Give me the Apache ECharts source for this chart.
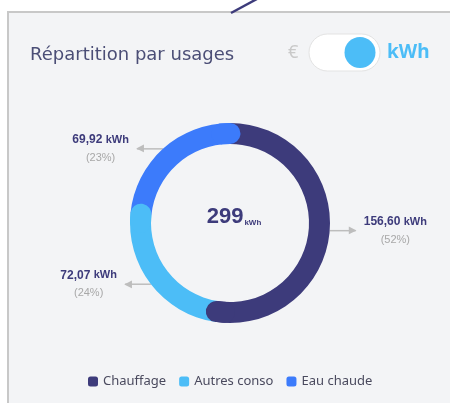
<!DOCTYPE html>
<html>
<head>
<meta charset="utf-8">
<script src="https://cdn.jsdelivr.net/npm/echarts@6/dist/echarts.min.js"></script>
<style>
  html, body { margin: 0; padding: 0; background: #ffffff; }
  #chart { width: 450px; height: 403px; }
</style>
</head>
<body>
<div id="chart"></div>
<script>
// usages (kWh)
const usages = ['Chauffage', 'Autres conso', 'Eau chaude'];
const kwh = [156.60, 72.07, 69.92];
const colors = ['#3d3b7b', '#4cbdf7', '#3c7bfb'];
const unit = 'kWh';

const total = kwh.reduce((a, b) => a + b, 0);
const fmt = (v) => v.toFixed(2).replace('.', ',');

const chart = echarts.init(document.getElementById('chart'));

const center = [230, 223];
const radius = [79, 100];

// mid angle of each slice, clockwise from top (deg)
const midAngles = [];
let acc = 0;
kwh.forEach(v => {
  midAngles.push((acc + v / 2) / total * 360);
  acc += v;
});

// rounded "end caps" so each slice overlaps the next one
const back = 12;   // how far the cap goes back into its own slice
const ext = 10.5 / ((radius[0] + radius[1]) / 2) * 180 / Math.PI;
const capList = [];
acc = 0;
kwh.forEach((v, i) => {
  acc += v;
  let end = acc / total * 360;
  if (i === kwh.length - 1) end = 0;   // last slice wraps round to the top
  capList.push({ from: end - back, to: end + ext, color: colors[i] });
});
capList.sort((a, b) => a.from - b.from);
const capData = [];
let pos = capList[0].from;
capList.forEach(c => {
  if (c.from > pos) {
    capData.push({ value: c.from - pos, itemStyle: { color: 'rgba(0,0,0,0)' } });
  }
  capData.push({ value: c.to - c.from, itemStyle: { color: c.color } });
  pos = c.to;
});
capData.push({ value: capList[0].from + 360 - pos, itemStyle: { color: 'rgba(0,0,0,0)' } });

const lineLen = 26;

chart.setOption({
  animation: false,
  backgroundColor: '#ffffff',
  color: colors,
  title: [
    {
      text: 'Répartition par usages',
      left: 25,
      top: 41,
      textStyle: { fontFamily: 'DejaVu Sans', fontSize: 18, fontWeight: 'normal', color: '#4b4e76' }
    },
    {
      text: '{a|' + Math.round(total) + '}{b|' + unit + '}',
      left: 229,
      top: 201,
      textAlign: 'center',
      textStyle: {
        rich: {
          a: { fontFamily: 'Liberation Sans', fontSize: 22, fontWeight: 'bold', color: '#3d3b7b', verticalAlign: 'bottom' },
          b: { fontFamily: 'Liberation Sans', fontSize: 8, color: '#3d3b7b', verticalAlign: 'bottom', padding: [0, 0, 1, 1] }
        }
      }
    }
  ],
  legend: {
    data: usages,
    left: 83,
    top: 370,
    icon: 'roundRect',
    itemWidth: 10,
    itemHeight: 10,
    itemGap: 13,
    selectedMode: false,
    textStyle: { fontFamily: 'Noto Sans', fontSize: 13, color: '#4a4a5e' }
  },
  graphic: [
    {
      type: 'rect', z: -10, silent: true,
      shape: { x: 8, y: 12, width: 470, height: 420 },
      style: { fill: '#f3f4f6', stroke: '#c8c8c8', lineWidth: 2 }
    },
    {
      type: 'line', z: -5, silent: true,
      shape: { x1: 231, y1: 13, x2: 257, y2: -1 },
      style: { stroke: '#3d3b7b', lineWidth: 2.5 }
    },
    {
      type: 'text', silent: true, x: 288, y: 53,
      style: { text: '€', fill: '#c9c9c9', font: '18px "Noto Sans"', verticalAlign: 'middle' }
    },
    {
      type: 'rect', silent: true,
      shape: { x: 309, y: 34, width: 71, height: 37, r: 18.5 },
      style: { fill: '#ffffff', stroke: '#e3e3e3', lineWidth: 1 }
    },
    {
      type: 'circle', silent: true,
      shape: { cx: 360, cy: 52.5, r: 15.5 },
      style: { fill: '#4cbdf7' }
    },
    {
      type: 'text', silent: true, x: 387, y: 53,
      style: { text: 'kWh', fill: '#4cbdf7', font: 'bold 19px "Noto Sans"', verticalAlign: 'middle' }
    }
  ],
  series: [
    {
      type: 'pie',
      z: 2,
      center: center,
      radius: radius,
      startAngle: 90,
      clockwise: true,
      avoidLabelOverlap: false,
      silent: true,
      data: usages.map((n, i) => ({ name: n, value: kwh[i] })),
      label: {
        show: true,
        position: 'outside',
        distanceToLabelLine: 8,
        lineHeight: 18,
        formatter: (p) => '{v|' + fmt(p.value) + '} {u|' + unit + '}\n{p|(' + Math.round(p.percent) + '%)}',
        rich: {
          v: { fontFamily: 'Liberation Sans', fontSize: 12, fontWeight: 'bold', color: '#3d3b7b', lineHeight: 18 },
          u: { fontFamily: 'Liberation Sans', fontSize: 11, fontWeight: 'bold', color: '#3d3b7b', lineHeight: 18 },
          p: { fontFamily: 'Liberation Sans', fontSize: 11, color: '#a8a8a8', align: 'center', lineHeight: 18 }
        }
      },
      labelLine: {
        show: true,
        length: 0,
        length2: lineLen,
        lineStyle: { color: '#bdbdbd', width: 1.5 }
      }
    },
    {
      // arrow heads at end of label lines
      type: 'pie',
      z: 1,
      center: center,
      radius: radius,
      startAngle: 90,
      clockwise: true,
      avoidLabelOverlap: false,
      silent: true,
      data: usages.map((n, i) => ({ name: n, value: kwh[i], itemStyle: { color: 'rgba(0,0,0,0)' } })),
      label: {
        show: true,
        position: 'outside',
        distanceToLabelLine: 0,
        fontFamily: 'DejaVu Sans',
        fontSize: 10,
        color: '#bdbdbd',
        formatter: (p) => (midAngles[p.dataIndex] < 180 ? '▶' : '◀')
      },
      labelLine: { show: false, length: 0, length2: lineLen - 7 }
    },
    {
      // rounded caps
      type: 'pie',
      z: 3,
      center: center,
      radius: radius,
      startAngle: 90 - capList[0].from,
      clockwise: true,
      silent: true,
      label: { show: false },
      labelLine: { show: false },
      itemStyle: { borderRadius: 11 },
      data: capData
    }
  ]
});
</script>
</body>
</html>
